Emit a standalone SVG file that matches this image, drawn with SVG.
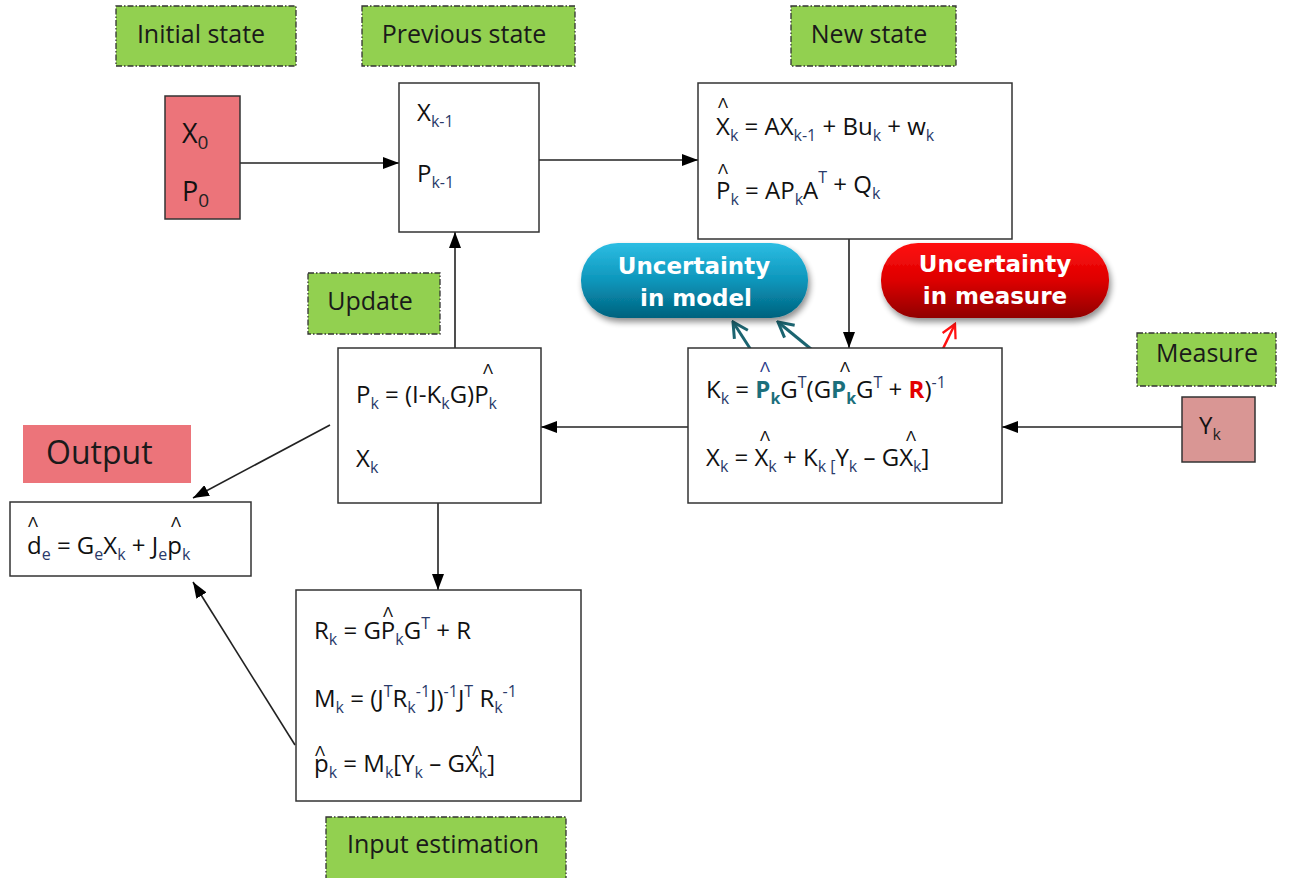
<svg xmlns="http://www.w3.org/2000/svg" width="1292" height="878" viewBox="0 0 1292 878">
<style>
.lbl{fill:#92d050;stroke:#333;stroke-width:1.3;stroke-dasharray:6 2 1.5 2}
.lt{font-family:"Open Sans","Liberation Sans",sans-serif;font-size:25px;fill:#1a1a1a;text-anchor:middle}
.box{fill:#fff;stroke:#333;stroke-width:1.5}
.f{font-family:"Open Sans","Liberation Sans",sans-serif;font-size:24px;fill:#111}
.s{font-size:16px;fill:#2a3a6a}
.hat{font-family:"Liberation Sans",sans-serif;font-size:15px;fill:#111}
.con{stroke:#222;stroke-width:1.6;fill:none}
.pt{font-family:"DejaVu Sans",Verdana,sans-serif;font-weight:bold;font-size:23px;fill:#fff;text-anchor:middle}
.teal{fill:#1b6f7c;font-weight:bold}
.red{fill:#e30000;font-weight:bold}
</style>
<defs>
<marker id="ab" viewBox="0 0 16 12" refX="16" refY="6" markerWidth="16" markerHeight="12" markerUnits="userSpaceOnUse" orient="auto"><path d="M0,0L16,6L0,12z" fill="#000"/></marker>
<marker id="at" viewBox="0 0 20 20" refX="18" refY="10" markerWidth="20" markerHeight="20" markerUnits="userSpaceOnUse" orient="auto"><path d="M3,2L18,10L3,18" fill="none" stroke="#1b6470" stroke-width="3"/></marker>
<marker id="ar" viewBox="0 0 20 20" refX="18" refY="10" markerWidth="18" markerHeight="18" markerUnits="userSpaceOnUse" orient="auto"><path d="M3,2L18,10L3,18" fill="none" stroke="#ff1010" stroke-width="2.5"/></marker>
<linearGradient id="gb" x1="0" y1="0" x2="0" y2="1"><stop offset="0" stop-color="#2cbde3"/><stop offset="0.5" stop-color="#0d96bb"/><stop offset="1" stop-color="#00627e"/></linearGradient>
<linearGradient id="gr" x1="0" y1="0" x2="0" y2="1"><stop offset="0" stop-color="#ff1010"/><stop offset="0.5" stop-color="#dd0000"/><stop offset="1" stop-color="#900000"/></linearGradient>
<filter id="sh" x="-10%" y="-10%" width="125%" height="140%"><feGaussianBlur in="SourceAlpha" stdDeviation="3"/><feOffset dx="2" dy="4"/><feComponentTransfer><feFuncA type="linear" slope="0.45"/></feComponentTransfer><feMerge><feMergeNode/><feMergeNode in="SourceGraphic"/></feMerge></filter>
</defs>

<g id="connectors">
<line class="con" x1="240" y1="163" x2="399" y2="163" marker-end="url(#ab)"/>
<line class="con" x1="539" y1="160" x2="698" y2="160" marker-end="url(#ab)"/>
<line class="con" x1="849" y1="239" x2="849" y2="348" marker-end="url(#ab)"/>
<line class="con" x1="1182" y1="427" x2="1002" y2="427" marker-end="url(#ab)"/>
<line class="con" x1="688" y1="427" x2="541" y2="427" marker-end="url(#ab)"/>
<line class="con" x1="455" y1="348" x2="455" y2="232" marker-end="url(#ab)"/>
<line class="con" x1="438" y1="503" x2="438" y2="590" marker-end="url(#ab)"/>
<line class="con" x1="330" y1="425" x2="193" y2="498" marker-end="url(#ab)"/>
<line class="con" x1="295" y1="745" x2="193" y2="582" marker-end="url(#ab)"/>
<line x1="762" y1="367" x2="733" y2="322" stroke="#1b6470" stroke-width="3" marker-end="url(#at)"/>
<line x1="833" y1="367" x2="778" y2="322" stroke="#1b6470" stroke-width="3" marker-end="url(#at)"/>
<line x1="936" y1="363" x2="955" y2="324" stroke="#ff1010" stroke-width="2.5" marker-end="url(#ar)"/>
</g>

<g id="initial-state-label"><rect class="lbl" x="116" y="6" width="180" height="60"/><text class="lt" x="201" y="43">Initial state</text></g>
<g id="previous-state-label"><rect class="lbl" x="362" y="6" width="213" height="60"/><text class="lt" x="464" y="43">Previous state</text></g>
<g id="new-state-label"><rect class="lbl" x="791" y="6" width="165" height="60"/><text class="lt" x="869" y="43">New state</text></g>
<g id="update-label"><rect class="lbl" x="308" y="273" width="132" height="61"/><text class="lt" x="370" y="310">Update</text></g>
<g id="measure-label"><rect class="lbl" x="1137" y="333" width="139" height="53"/><text class="lt" x="1207" y="362">Measure</text></g>
<g id="input-estimation-label"><rect class="lbl" x="326" y="817" width="240" height="62"/><text class="lt" x="443" y="853">Input estimation</text></g>

<g id="initial-state">
<rect x="165" y="96" width="75" height="123" fill="#ec747a" stroke="#333" stroke-width="1.5"/>
<text class="f" x="182" y="143" style="font-size:27px">X<tspan class="s" dy="6" style="font-size:19px;fill:#222">0</tspan></text>
<text class="f" x="182" y="201" style="font-size:27px">P<tspan class="s" dy="6" style="font-size:19px;fill:#222">0</tspan></text>
</g>

<g id="previous-state">
<rect class="box" x="399" y="83" width="140" height="149"/>
<text class="f" x="417" y="121">X<tspan class="s" dy="6">k-1</tspan></text>
<text class="f" x="417" y="182">P<tspan class="s" dy="6">k-1</tspan></text>
</g>

<g id="new-state">
<rect class="box" x="698" y="83" width="314" height="156"/>
<text class="f" x="716" y="135">X<tspan class="s" dy="6">k</tspan><tspan dy="-6"> = AX</tspan><tspan class="s" dy="6">k-1</tspan><tspan dy="-6"> + Bu</tspan><tspan class="s" dy="6">k</tspan><tspan dy="-6"> + w</tspan><tspan class="s" dy="6">k</tspan><tspan class="hat" x="718" y="108">Λ</tspan></text>
<text class="f" x="716" y="199">P<tspan class="s" dy="6">k</tspan><tspan dy="-6"> = AP</tspan><tspan class="s" dy="6">k</tspan><tspan dy="-6">A</tspan><tspan class="s" dy="-16">T</tspan><tspan dy="10"> + Q</tspan><tspan class="s" dy="6">k</tspan><tspan class="hat" x="718" y="174">Λ</tspan></text>
</g>

<g id="uncertainty-model">
<rect x="581" y="243" width="227" height="75" rx="37" fill="url(#gb)" filter="url(#sh)"/>
<text class="pt" x="694" y="274">Uncertainty</text>
<text class="pt" x="696" y="306">in model</text>
</g>

<g id="uncertainty-measure">
<rect x="881" y="243" width="228" height="75" rx="37" fill="url(#gr)" filter="url(#sh)"/>
<text class="pt" x="995" y="272">Uncertainty</text>
<text class="pt" x="995" y="304">in measure</text>
</g>

<g id="kalman-gain">
<rect class="box" x="688" y="348" width="314" height="155"/>
<text class="f" x="706" y="398">K<tspan class="s" dy="6">k</tspan><tspan dy="-6"> = </tspan><tspan class="teal">P</tspan><tspan class="s teal" dy="6">k</tspan><tspan dy="-6">G</tspan><tspan class="s" dy="-10">T</tspan><tspan dy="10">(G</tspan><tspan class="teal">P</tspan><tspan class="s teal" dy="6">k</tspan><tspan dy="-6">G</tspan><tspan class="s" dy="-10">T</tspan><tspan dy="10"> + </tspan><tspan class="red">R</tspan><tspan>)</tspan><tspan class="s" dy="-10">-1</tspan><tspan class="hat" x="760" y="372" style="fill:#2a3a8a">Λ</tspan><tspan class="hat" x="840" y="372">Λ</tspan></text>
<text class="f" x="706" y="466">X<tspan class="s" dy="6">k</tspan><tspan dy="-6"> = X</tspan><tspan class="s" dy="6">k</tspan><tspan dy="-6"> + K</tspan><tspan class="s" dy="6">k [</tspan><tspan dy="-6">Y</tspan><tspan class="s" dy="6">k</tspan><tspan dy="-6"> – GX</tspan><tspan class="s" dy="6">k</tspan><tspan dy="-6">]</tspan><tspan class="hat" x="760" y="441">Λ</tspan><tspan class="hat" x="906" y="441">Λ</tspan></text>
</g>

<g id="update">
<rect class="box" x="338" y="348" width="203" height="155"/>
<text class="f" x="356" y="403">P<tspan class="s" dy="6">k</tspan><tspan dy="-6"> = (I-K</tspan><tspan class="s" dy="6">k</tspan><tspan dy="-6">G)P</tspan><tspan class="s" dy="6">k</tspan><tspan class="hat" x="483" y="374">Λ</tspan></text>
<text class="f" x="356" y="467">X<tspan class="s" dy="6">k</tspan></text>
</g>

<g id="output-label">
<rect x="23" y="425" width="168" height="58" fill="#ec747a"/>
<text x="46" y="464" style="font-family:'Open Sans','Liberation Sans',sans-serif;font-size:32px;fill:#1a1a1a">Output</text>
</g>

<g id="output">
<rect class="box" x="10" y="502" width="241" height="74"/>
<text class="f" x="27" y="554">d<tspan class="s" dy="6">e</tspan><tspan dy="-6"> = G</tspan><tspan class="s" dy="6">e</tspan><tspan dy="-6">X</tspan><tspan class="s" dy="6">k</tspan><tspan dy="-6"> + J</tspan><tspan class="s" dy="6">e</tspan><tspan dy="-6">p</tspan><tspan class="s" dy="6">k</tspan><tspan class="hat" x="28" y="527">Λ</tspan><tspan class="hat" x="171" y="527">Λ</tspan></text>
</g>

<g id="input-estimation">
<rect class="box" x="296" y="590" width="285" height="211"/>
<text class="f" x="314" y="639">R<tspan class="s" dy="6">k</tspan><tspan dy="-6"> = GP</tspan><tspan class="s" dy="6">k</tspan><tspan dy="-6">G</tspan><tspan class="s" dy="-10">T</tspan><tspan dy="10"> + R</tspan><tspan class="hat" x="383" y="617">Λ</tspan></text>
<text class="f" x="314" y="707">M<tspan class="s" dy="6">k</tspan><tspan dy="-6"> = (J</tspan><tspan class="s" dy="-10">T</tspan><tspan dy="10">R</tspan><tspan class="s" dy="6">k</tspan><tspan class="s" dy="-16">-1</tspan><tspan dy="10">J)</tspan><tspan class="s" dy="-10">-1</tspan><tspan dy="10">J</tspan><tspan class="s" dy="-10">T</tspan><tspan dy="10"> R</tspan><tspan class="s" dy="6">k</tspan><tspan class="s" dy="-16">-1</tspan></text>
<text class="f" x="314" y="772">p<tspan class="s" dy="6">k</tspan><tspan dy="-6">  = M</tspan><tspan class="s" dy="6">k</tspan><tspan dy="-6">[Y</tspan><tspan class="s" dy="6">k</tspan><tspan dy="-6"> – GX</tspan><tspan class="s" dy="6">k</tspan><tspan dy="-6">]</tspan><tspan class="hat" x="315" y="756">Λ</tspan><tspan class="hat" x="472" y="756">Λ</tspan></text>
</g>

<g id="measure">
<rect x="1182" y="397" width="73" height="65" fill="#d99694" stroke="#333" stroke-width="1.5"/>
<text class="f" x="1199" y="434">Y<tspan class="s" dy="6" style="fill:#222">k</tspan></text>
</g>
</svg>
